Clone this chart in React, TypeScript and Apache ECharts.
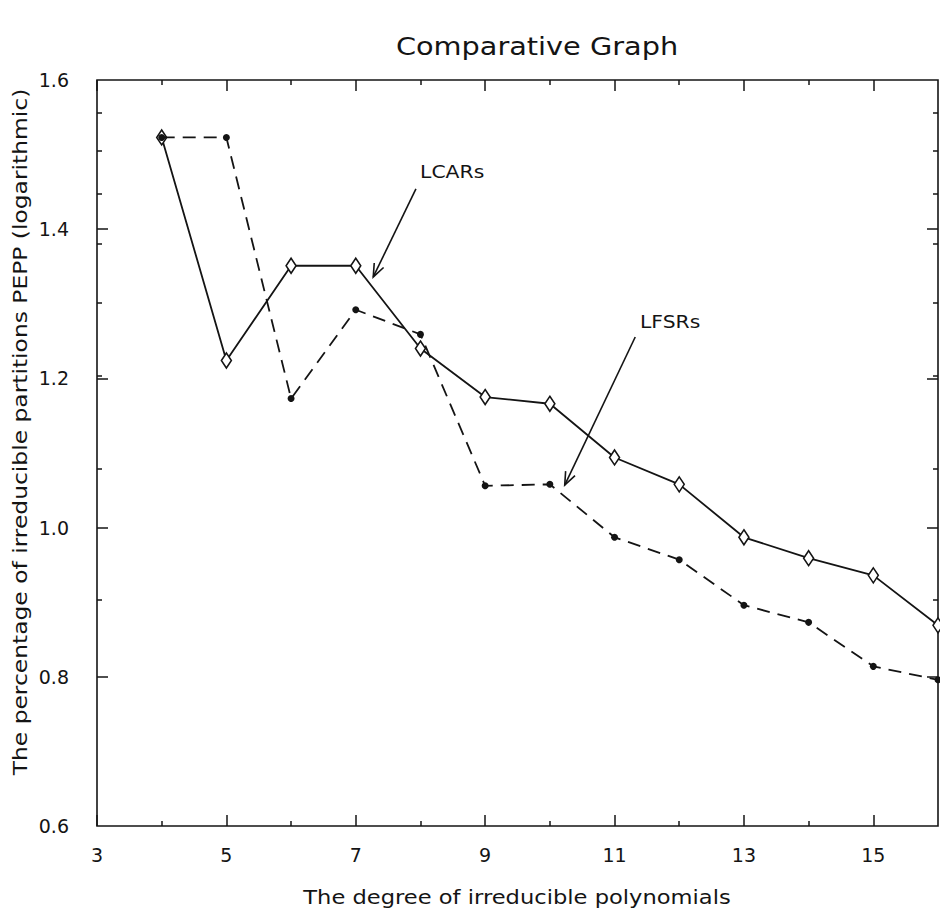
import React, { useEffect, useRef } from "react";
import * as echarts from "echarts";

// ---- data ----
const degrees = [4, 5, 6, 7, 8, 9, 10, 11, 12, 13, 14, 15, 16];
const lcarsValues = [1.523, 1.224, 1.351, 1.351, 1.24, 1.175, 1.166, 1.094, 1.058, 0.987, 0.959, 0.936, 0.869];
const lfsrsValues = [1.523, 1.523, 1.173, 1.292, 1.259, 1.056, 1.058, 0.987, 0.957, 0.896, 0.873, 0.814, 0.796];

const xLabelTicks = [3, 5, 7, 9, 11, 13, 15];
const xMinorTicks = [4, 6, 8, 10, 12, 14];
const yLabelTicks = [0.6, 0.8, 1.0, 1.2, 1.4, 1.6];
const yMajorTicks = [0.8, 1.0, 1.2, 1.4];
const yMinorTicks = [1.556, 1.505, 1.447, 1.38, 1.301, 1.204, 1.079, 0.903];

const titleText = "Comparative Graph";
const xAxisTitle = "The degree of irreducible polynomials";
const yAxisTitle = "The percentage of irreducible partitions PEPP (logarithmic)";

const annotationLabels = ["LCARs", "LFSRs"];
const annotationTextPos = [[8.49, 1.477], [11.86, 1.276]];
const annotationFrom = [[7.93, 1.454], [11.32, 1.2555]];
const annotationTo = [[7.27, 1.336], [10.23, 1.057]];

export default function App() {
  const ref = useRef<HTMLDivElement>(null);

  useEffect(() => {
    document.body.style.margin = "0";
    const chart = echarts.init(ref.current as HTMLDivElement, null, { renderer: "svg" });
    const ink = "#141414";
    const font = "DejaVu Sans";

    const xBase = (position: string, ticks: number[], len: number, labels: boolean) => ({
      type: "value",
      position,
      min: 3,
      max: 16,
      splitLine: { show: false },
      axisLine: { show: false },
      axisTick: { show: true, inside: true, length: len, customValues: ticks, lineStyle: { color: ink, width: 1.5 } },
      axisLabel: labels
        ? { show: true, customValues: xLabelTicks, margin: 19, fontSize: 19, fontFamily: font, color: ink }
        : { show: false },
    });
    const yBase = (position: string, ticks: number[], len: number, labels: boolean) => ({
      type: "value",
      position,
      min: 0.6,
      max: 1.6,
      splitLine: { show: false },
      axisLine: { show: false },
      axisTick: { show: true, inside: true, length: len, customValues: ticks, lineStyle: { color: ink, width: 1.5 } },
      axisLabel: labels
        ? {
            show: true,
            customValues: yLabelTicks,
            formatter: (v: number) => v.toFixed(1),
            margin: 28,
            fontSize: 19,
            fontFamily: font,
            color: ink,
          }
        : { show: false },
    });

    chart.setOption({
      animation: false,
      backgroundColor: "#ffffff",
      grid: {
        left: 97,
        right: 2,
        top: 80,
        bottom: 91,
        show: true,
        borderColor: ink,
        borderWidth: 1.6,
        backgroundColor: "transparent",
      },
      xAxis: [
        xBase("bottom", xLabelTicks, 11, true),
        xBase("bottom", xMinorTicks, 5, false),
        xBase("top", xLabelTicks, 11, false),
        xBase("top", xMinorTicks, 5, false),
      ],
      yAxis: [
        yBase("left", yMajorTicks, 11, true),
        yBase("left", yMinorTicks, 5, false),
        yBase("right", yMajorTicks, 11, false),
        yBase("right", yMinorTicks, 5, false),
      ],
      series: [
        {
          name: "LCARs",
          type: "line",
          xAxisIndex: 0,
          yAxisIndex: 0,
          data: degrees.map((d, i) => [d, lcarsValues[i]]),
          symbol: "diamond",
          symbolSize: [10, 15],
          showAllSymbol: true,
          lineStyle: { color: ink, width: 1.8 },
          itemStyle: { color: "#ffffff", borderColor: ink, borderWidth: 1.6 },
          z: 3,
        },
        {
          name: "LFSRs",
          type: "line",
          xAxisIndex: 0,
          yAxisIndex: 0,
          data: degrees.map((d, i) => [d, lfsrsValues[i]]),
          symbol: "circle",
          symbolSize: 7,
          showAllSymbol: true,
          lineStyle: { color: ink, width: 1.8, type: [13, 8] },
          itemStyle: { color: ink, borderWidth: 0 },
          z: 4,
        },
      ],
    });

    const toPx = (p: number[]) => chart.convertToPixel({ xAxisIndex: 0, yAxisIndex: 0 }, p) as number[];
    const textStyle = (text: string, size: number) => ({
      text,
      fontSize: size,
      fontFamily: font,
      fill: ink,
      align: "center",
      verticalAlign: "middle",
      textAlign: "center",
      textVerticalAlign: "middle",
    });
    const graphics: any[] = [
      { type: "text", x: 537, y: 46, scaleX: 1.15, style: textStyle(titleText, 25) },
      { type: "text", x: 517, y: 897, scaleX: 1.13, style: textStyle(xAxisTitle, 20) },
      { type: "text", x: 20, y: 432, rotation: Math.PI / 2, scaleX: 1.17, style: textStyle(yAxisTitle, 20) },
    ];

    annotationLabels.forEach((label, i) => {
      const t = toPx(annotationTextPos[i]);
      const s = toPx(annotationFrom[i]);
      const e = toPx(annotationTo[i]);
      graphics.push({ type: "text", x: t[0], y: t[1], scaleX: 1.13, style: textStyle(label, 18) });
      graphics.push({
        type: "line",
        shape: { x1: s[0], y1: s[1], x2: e[0], y2: e[1] },
        style: { stroke: ink, lineWidth: 1.6 },
      });
      const ang = Math.atan2(e[1] - s[1], e[0] - s[0]);
      const L = 14;
      const th = 0.38;
      graphics.push({
        type: "polyline",
        shape: {
          points: [
            [e[0] - L * Math.cos(ang - th), e[1] - L * Math.sin(ang - th)],
            [e[0], e[1]],
            [e[0] - L * Math.cos(ang + th), e[1] - L * Math.sin(ang + th)],
          ],
        },
        style: { stroke: ink, lineWidth: 1.6, fill: "none" },
      });
    });

    chart.setOption({ graphic: graphics });

    return () => {
      chart.dispose();
    };
  }, []);

  return <div ref={ref} style={{ width: 940, height: 917 }} />;
}
